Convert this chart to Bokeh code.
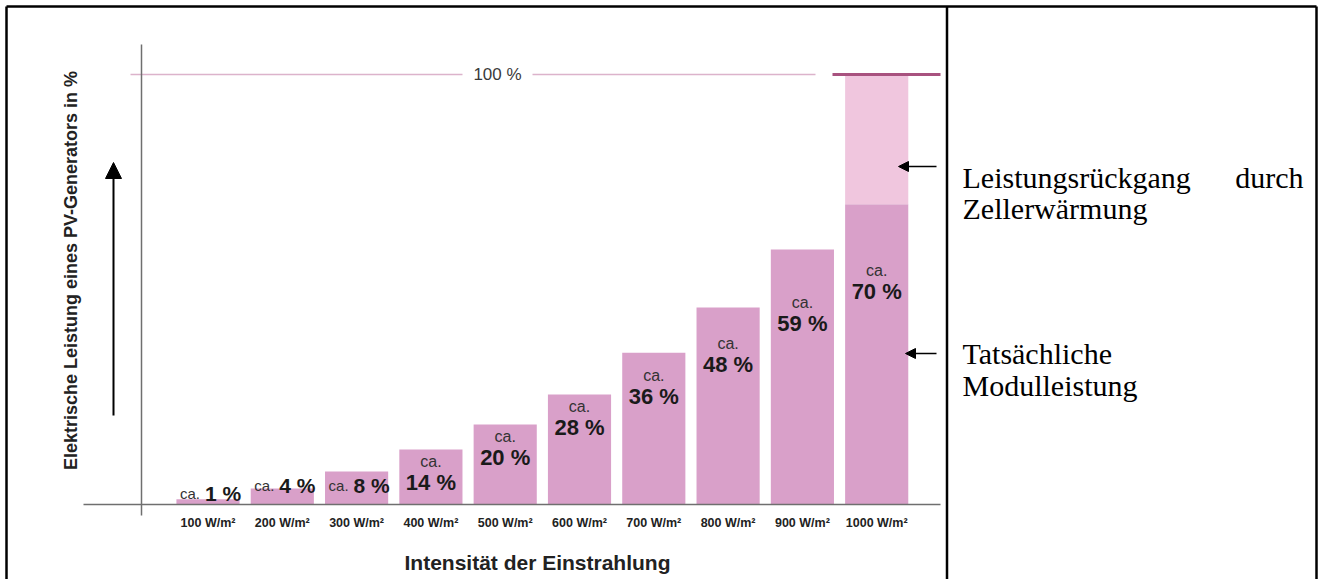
import math
from bokeh.plotting import figure
from bokeh.models import Range1d, LinearAxis, FixedTicker, Arrow, NormalHead
from bokeh.core.properties import value
from bokeh.embed import file_html
from bokeh.resources import INLINE

# ---------------- data ----------------
categories = ["100 W/m²", "200 W/m²", "300 W/m²", "400 W/m²", "500 W/m²",
              "600 W/m²", "700 W/m²", "800 W/m²", "900 W/m²", "1000 W/m²"]
label_pct = [1, 4, 8, 14, 20, 28, 36, 48, 59, 70]
bar_height = [1.2, 3.7, 7.7, 12.8, 18.6, 25.6, 35.3, 45.8, 59.3, 69.8]
nominal_pct = 100
y_label = "Elektrische Leistung eines PV-Generators in %"
x_label = "Intensität der Einstrahlung"
note_loss = ["Leistungsrückgang", "durch", "Zellerwärmung"]
note_actual = ["Tatsächliche", "Modulleistung"]

# ---------------- layout ----------------
W, H = 1320, 579
X0, DX = 207.5, 74.3   # px of first category centre, px per category
Y0, PY = 504.0, 4.3    # px of 0 %, px per percent


def dx(px):
    return (px - X0) / DX


def dy(py):
    return (Y0 - py) / PY


BAR = "#d9a0c9"
BAR_LIGHT = "#f0c6de"
AXIS = "#6f6f6f"
SANS = value("Liberation Sans")
SERIF = value("Liberation Serif")

p = figure(width=W, height=H, x_range=Range1d(dx(0), dx(W)),
           y_range=Range1d(dy(H), dy(0)), output_backend="svg",
           toolbar_location=None, min_border=0, x_axis_type=None,
           y_axis_type=None, background_fill_color="white",
           border_fill_color="white")
p.outline_line_color = None
p.extra_x_ranges = {"px": Range1d(0, W)}
p.extra_y_ranges = {"px": Range1d(H, 0)}

idx = list(range(len(categories)))

# bars
p.vbar(x=idx, top=bar_height, bottom=0, width=0.85, fill_color=BAR, line_color=None)
last = len(categories) - 1
p.vbar(x=[last], bottom=[bar_height[last]], top=[nominal_pct], width=0.85,
       fill_color=BAR_LIGHT, line_color=None)

# 100 % reference line
p.segment(x0=[dx(130), dx(532)], x1=[dx(462), dx(815)], y0=[nominal_pct] * 2,
          y1=[nominal_pct] * 2, line_color="#dcb3cb", line_width=1.5)
p.segment(x0=[dx(832)], x1=[dx(940)], y0=[nominal_pct], y1=[nominal_pct],
          line_color="#a8527f", line_width=3)
p.text(x=[dx(497)], y=[nominal_pct], text=["100 %"], text_font=SANS,
       text_font_size="17px", text_color="#3a3a3a", text_align="center",
       text_baseline="middle")

# axes
xaxis = LinearAxis(fixed_location=0, bounds=(dx(83), dx(940)),
                   ticker=FixedTicker(ticks=idx),
                   major_label_overrides={i: c for i, c in enumerate(categories)})
xaxis.axis_line_color = AXIS
xaxis.axis_line_width = 1.5
xaxis.major_tick_line_color = None
xaxis.minor_tick_line_color = None
xaxis.major_label_standoff = 5
xaxis.major_label_text_font = "Liberation Sans"
xaxis.major_label_text_font_style = "bold"
xaxis.major_label_text_font_size = "12.5px"
xaxis.major_label_text_color = "#222222"
p.add_layout(xaxis, "below")

yaxis = LinearAxis(fixed_location=dx(141), bounds=(dy(515), dy(44)),
                   ticker=FixedTicker(ticks=[]))
yaxis.axis_line_color = AXIS
yaxis.axis_line_width = 1.5
yaxis.major_tick_line_color = None
yaxis.minor_tick_line_color = None
yaxis.major_label_text_font_size = "0px"
p.add_layout(yaxis, "left")

# bar labels
inline_x, inline_y, inline_val = [], [], []
stack_x, stack_y, stack_ca_y, stack_val = [], [], [], []
for i, (h, pct) in enumerate(zip(bar_height, label_pct)):
    if h < 10:
        inline_x.append(i)
        inline_y.append(min(h, 3.0) + 1.4)
        inline_val.append(f"{pct} %")
    else:
        hpx = h * PY
        base_px = min(hpx - 33, 0.71 * hpx)
        stack_x.append(i)
        stack_y.append(base_px / PY)
        stack_ca_y.append((base_px + 21) / PY)
        stack_val.append(f"{pct} %")

p.text(x=[x - 8 / DX for x in inline_x], y=inline_y, text=["ca."] * len(inline_x),
       text_font=SANS, text_font_size="15px", text_color="#333333",
       text_align="right", text_baseline="alphabetic")
p.text(x=[x - 3 / DX for x in inline_x], y=inline_y, text=inline_val,
       text_font=SANS, text_font_style="bold", text_font_size="21px",
       text_color="#1a1a1a", text_align="left", text_baseline="alphabetic")
p.text(x=stack_x, y=stack_ca_y, text=["ca."] * len(stack_x),
       text_font=SANS, text_font_size="16px", text_color="#333333",
       text_align="center", text_baseline="alphabetic")
p.text(x=stack_x, y=stack_y, text=stack_val,
       text_font=SANS, text_font_style="bold", text_font_size="22px",
       text_color="#1a1a1a", text_align="center", text_baseline="alphabetic")

# axis titles
p.text(x=[537], y=[562], text=[x_label], x_range_name="px", y_range_name="px",
       text_font=SANS, text_font_style="bold", text_font_size="21px",
       text_color="#222222", text_align="center", text_baseline="middle")
p.text(x=[70], y=[270], text=[y_label], x_range_name="px", y_range_name="px",
       angle=math.pi / 2, text_font=SANS,
       text_font_style="bold", text_font_size="18px", text_color="#222222",
       text_align="center", text_baseline="middle")

# arrows
p.add_layout(Arrow(end=NormalHead(size=16, fill_color="black", line_color="black"),
                   x_start=dx(113), y_start=dy(415), x_end=dx(113), y_end=dy(162),
                   line_color="black", line_width=2))
p.add_layout(Arrow(end=NormalHead(size=10, fill_color="black", line_color="black"),
                   x_start=dx(936), y_start=dy(166), x_end=dx(898), y_end=dy(166),
                   line_color="black", line_width=1.5))
p.add_layout(Arrow(end=NormalHead(size=10, fill_color="black", line_color="black"),
                   x_start=dx(936), y_start=dy(353), x_end=dx(905), y_end=dy(353),
                   line_color="black", line_width=1.5))

# frame / divider
p.multi_line(xs=[[6, 6], [6, 1316], [1316, 1316], [946.5, 946.5]],
             ys=[[H, 6], [6, 6], [6, H], [6, H]], x_range_name="px",
             y_range_name="px", line_color="black", line_width=2.5)

# right-hand notes
p.text(x=[962], y=[177], text=[note_loss[0]], x_range_name="px", y_range_name="px",
       text_font=SERIF, text_font_size="30px", text_color="black",
       text_align="left", text_baseline="alphabetic")
p.text(x=[1303], y=[177], text=[note_loss[1]], x_range_name="px", y_range_name="px",
       text_font=SERIF, text_font_size="30px", text_color="black",
       text_align="right", text_baseline="alphabetic")
p.text(x=[962], y=[208], text=[note_loss[2]], x_range_name="px", y_range_name="px",
       text_font=SERIF, text_font_size="30px", text_color="black",
       text_align="left", text_baseline="alphabetic")
p.text(x=[962, 962], y=[353, 385], text=note_actual, x_range_name="px",
       y_range_name="px", text_font=SERIF, text_font_size="30px",
       text_color="black", text_align="left", text_baseline="alphabetic")

open("out.html", "w").write(file_html(p, INLINE))
